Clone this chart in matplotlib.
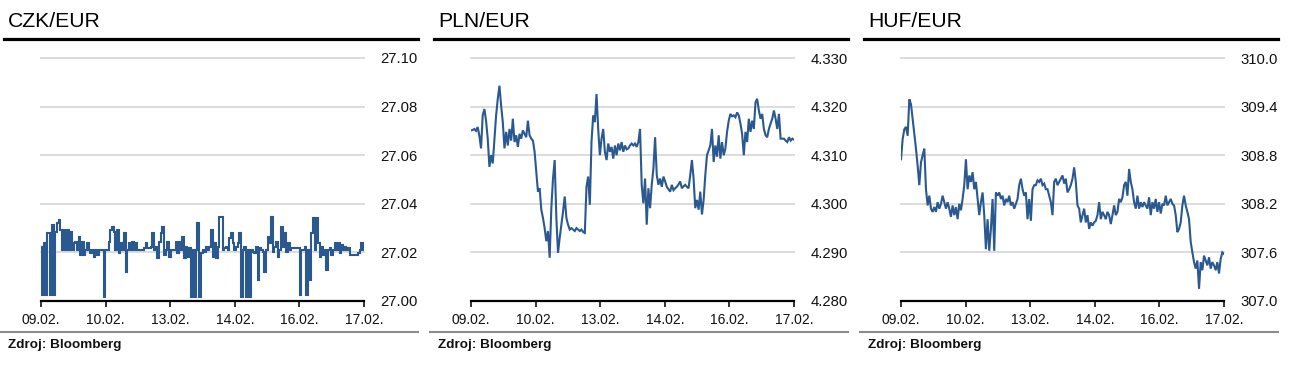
import numpy as np
import matplotlib.pyplot as plt
from matplotlib.lines import Line2D

# -----------------------------
# Data (intraday fixings)
# -----------------------------
date_labels = ["09.02.", "10.02.", "13.02.", "14.02.", "16.02.", "17.02."]

czk_eur = [
    27.0224, 27.0025, 27.0237, 27.0025, 27.0279, 27.0279, 27.0025, 27.0313, 27.0025, 27.0285,
    27.0320, 27.0333, 27.0292, 27.0210, 27.0292, 27.0210, 27.0292, 27.0210, 27.0285, 27.0210,
    27.0237, 27.0244, 27.0210, 27.0265, 27.0189, 27.0244, 27.0189, 27.0210, 27.0237, 27.0210,
    27.0196, 27.0210, 27.0182, 27.0210, 27.0189, 27.0210, 27.0210, 27.0210, 27.0018, 27.0210,
    27.0210, 27.0244, 27.0292, 27.0306, 27.0285, 27.0210, 27.0292, 27.0196, 27.0237, 27.0210,
    27.0279, 27.0121, 27.0210, 27.0237, 27.0210, 27.0244, 27.0210, 27.0237, 27.0210, 27.0210,
    27.0210, 27.0210, 27.0217, 27.0237, 27.0217, 27.0217, 27.0223, 27.0279, 27.0210, 27.0223,
    27.0176, 27.0244, 27.0279, 27.0306, 27.0189, 27.0210, 27.0244, 27.0182, 27.0210, 27.0210,
    27.0210, 27.0244, 27.0196, 27.0244, 27.0210, 27.0265, 27.0176, 27.0223, 27.0182, 27.0217,
    27.0018, 27.0210, 27.0018, 27.0210, 27.0320,
    27.0018, 27.0196, 27.0210, 27.0203, 27.0223, 27.0210, 27.0223, 27.0292, 27.0182, 27.0237,
    27.0176, 27.0223, 27.0347, 27.0347, 27.0210, 27.0217, 27.0223, 27.0210, 27.0258, 27.0279,
    27.0237, 27.0210, 27.0223, 27.0237, 27.0279, 27.0018, 27.0210, 27.0223, 27.0018, 27.0210,
    27.0018, 27.0210, 27.0203, 27.0196, 27.0223, 27.0086, 27.0217, 27.0210, 27.0203, 27.0121,
    27.0210, 27.0265, 27.0237, 27.0347, 27.0203, 27.0223, 27.0244, 27.0182, 27.0210, 27.0306,
    27.0223, 27.0279, 27.0203, 27.0237, 27.0210, 27.0217, 27.0217, 27.0217, 27.0217, 27.0217,
    27.0025, 27.0210, 27.0210, 27.0223, 27.0025, 27.0210, 27.0086, 27.0279, 27.0340, 27.0210,
    27.0340, 27.0237, 27.0182, 27.0223, 27.0189, 27.0210, 27.0128, 27.0210, 27.0217, 27.0189,
    27.0210, 27.0237, 27.0210, 27.0237, 27.0196, 27.0230, 27.0210, 27.0223, 27.0210, 27.0217,
    27.0189, 27.0189, 27.0189, 27.0189, 27.0189, 27.0196, 27.0210, 27.0237, 27.0210,
]

pln_eur = [
    4.3151, 4.3152, 4.3154, 4.3150, 4.3158, 4.3140, 4.3114, 4.3182, 4.3195, 4.3171,
    4.3134, 4.3076, 4.3100, 4.3083, 4.3134, 4.3182, 4.3216, 4.3243, 4.3202, 4.3168,
    4.3114, 4.3148, 4.3120, 4.3154, 4.3130, 4.3175, 4.3127, 4.3141, 4.3117, 4.3144,
    4.3134, 4.3151, 4.3144, 4.3137, 4.3171, 4.3141, 4.3134, 4.3130, 4.3107, 4.3066,
    4.3025, 4.3032, 4.2988, 4.2971, 4.2950, 4.2923, 4.2944, 4.2889, 4.2991, 4.3052,
    4.3090, 4.2971, 4.2899, 4.2930, 4.2957, 4.2984, 4.3015, 4.2971, 4.2957, 4.2947,
    4.2950, 4.2947, 4.2944, 4.2950, 4.2947, 4.2944, 4.2947, 4.2942, 4.2940, 4.3035,
    4.3056, 4.2998, 4.3127, 4.3182, 4.3168, 4.3226, 4.3154, 4.3100, 4.3134, 4.3154,
    4.3107, 4.3090, 4.3124, 4.3107, 4.3117, 4.3093, 4.3120, 4.3100, 4.3124, 4.3110,
    4.3127, 4.3107, 4.3120, 4.3112, 4.3114, 4.3120, 4.3124,
    4.3120, 4.3124, 4.3117, 4.3127, 4.3154, 4.3039, 4.3001, 4.3052, 4.2957, 4.3032,
    4.2991, 4.3039, 4.3073, 4.3137, 4.3059, 4.3039, 4.3052, 4.3035, 4.3056, 4.3046,
    4.3035, 4.3030, 4.3025, 4.3039, 4.3028, 4.3032, 4.3035, 4.3040, 4.3046, 4.3032,
    4.3036, 4.3039, 4.3035, 4.3032, 4.3059, 4.3090, 4.3052, 4.2991, 4.3008, 4.2988,
    4.3025, 4.2978, 4.3008, 4.3059, 4.3100, 4.3110, 4.3120, 4.3154, 4.3086, 4.3120,
    4.3097, 4.3141, 4.3093, 4.3127, 4.3100, 4.3114, 4.3148, 4.3171, 4.3185, 4.3180,
    4.3182, 4.3178, 4.3188, 4.3182, 4.3165, 4.3144, 4.3100, 4.3148, 4.3127, 4.3175,
    4.3148, 4.3171, 4.3154, 4.3209, 4.3216, 4.3192, 4.3175, 4.3185, 4.3154, 4.3141,
    4.3137, 4.3154, 4.3165, 4.3175, 4.3192, 4.3175, 4.3154, 4.3185, 4.3134, 4.3134,
    4.3134, 4.3130, 4.3127, 4.3137, 4.3130, 4.3134, 4.3132,
]

huf_eur = [
    308.75, 309.00, 309.12, 309.15, 309.04, 309.49, 309.43, 309.25, 309.08, 308.88,
    308.67, 308.43, 308.71, 308.80, 308.88, 308.38, 308.18, 308.30, 308.14, 308.10,
    308.16, 308.10, 308.22, 308.14, 308.20, 308.30, 308.22, 308.14, 308.22, 308.14,
    308.04, 308.18, 308.06, 308.16, 308.01, 308.20, 308.12, 308.26, 308.43, 308.75,
    308.38, 308.55, 308.47, 308.59, 308.38, 308.47, 308.26, 308.06, 308.22, 308.34,
    308.06, 307.64, 308.01, 307.62, 307.89, 308.26, 307.62, 308.34, 308.30, 308.34,
    308.26, 308.30, 308.18, 308.26, 308.22, 308.30, 308.18, 308.22, 308.14, 308.20,
    308.26, 308.43, 308.51, 308.38, 308.30, 308.34, 308.01, 308.26, 307.99, 308.38,
    308.43, 308.43, 308.49, 308.47, 308.51, 308.43, 308.45, 308.38, 308.38, 308.30,
    308.22, 308.06, 308.47, 308.51, 308.43, 308.47, 308.51, 308.55, 308.45,
    308.51, 308.34, 308.38, 308.43, 308.51, 308.65, 308.47, 308.18, 308.14, 307.97,
    308.06, 308.14, 307.97, 308.06, 307.89, 307.97, 307.93, 307.97, 307.99, 308.06,
    308.22, 308.01, 308.10, 308.06, 308.01, 308.10, 308.06, 307.95, 308.06, 308.18,
    308.06, 308.10, 308.26, 308.22, 308.28, 308.43, 308.47, 308.30, 308.63, 308.47,
    308.38, 308.22, 308.14, 308.30, 308.14, 308.22, 308.16, 308.22, 308.18, 308.14,
    308.28, 308.06, 308.22, 308.14, 308.26, 308.10, 308.22, 308.08, 308.20, 308.18,
    308.30, 308.18, 308.22, 308.26, 308.20, 308.18, 308.06, 307.85, 307.89, 307.97,
    308.18, 308.30, 308.18, 308.10, 308.01, 307.73, 307.60, 307.48, 307.40, 307.50,
    307.15, 307.48, 307.38, 307.56, 307.50, 307.44, 307.54, 307.40, 307.48, 307.44,
    307.38, 307.48, 307.34, 307.52, 307.60, 307.58,
]

titles = ["CZK/EUR", "PLN/EUR", "HUF/EUR"]
series = [czk_eur, pln_eur, huf_eur]
y_ticks = [
    [27.00, 27.02, 27.04, 27.06, 27.08, 27.10],
    [4.280, 4.290, 4.300, 4.310, 4.320, 4.330],
    [307.0, 307.6, 308.2, 308.8, 309.4, 310.0],
]
y_formats = ["{:.2f}", "{:.3f}", "{:.1f}"]
step_style = ["steps-mid", "default", "default"]

# -----------------------------
# Figure layout (pixel based)
# -----------------------------
W, H = 1291, 367
fig = plt.figure(figsize=(W / 100, H / 100), dpi=100)
plt.rcParams["font.family"] = ["Liberation Sans", "DejaVu Sans"]

line_color = "#2a5890"
panel_offsets = [0, 430, 860]

for i, off in enumerate(panel_offsets):
    left = off + 41
    ax = fig.add_axes([left / W, 1 - 301 / H, 323 / W, 243 / H])

    vals = np.array(series[i])
    t = np.linspace(0, 5, len(vals))
    ax.plot(t, vals, color=line_color, linewidth=1.5, drawstyle=step_style[i],
            solid_joinstyle="miter")

    ax.set_xlim(0, 5)
    ax.set_ylim(y_ticks[i][0], y_ticks[i][-1])
    ax.set_xticks(range(6))
    ax.set_xticklabels(date_labels, fontsize=10)
    ax.set_yticks(y_ticks[i])
    ax.set_yticklabels([y_formats[i].format(v) for v in y_ticks[i]], fontsize=10.7)

    ax.yaxis.tick_right()
    ax.tick_params(axis="y", length=0, pad=12, colors="#111111")
    ax.tick_params(axis="x", length=4, width=1.2, pad=5, colors="#111111",
                   direction="out")
    ax.grid(axis="y", color="#d9d9d9", linewidth=1.3)
    for gl in ax.get_ygridlines():
        gl.set_clip_on(False)
    ax.set_axisbelow(True)

    for side in ["top", "right", "left"]:
        ax.spines[side].set_visible(False)
    ax.spines["bottom"].set_linewidth(1.6)
    ax.spines["bottom"].set_color("black")
    ax.spines["bottom"].set_zorder(5)

    # title and rules
    fig.text((off + 8) / W, 1 - 27 / H, titles[i], fontsize=15.2, va="baseline",
             ha="left", color="black")
    fig.add_artist(Line2D([(off + 4) / W, (off + 418) / W], [1 - 38.7 / H] * 2,
                          color="black", linewidth=2.3))
    fig.add_artist(Line2D([off / W, (off + 418) / W], [1 - 331.5 / H] * 2,
                          color="#8c8c8c", linewidth=1.5))
    fig.text((off + 8) / W, 1 - 348 / H, "Zdroj: Bloomberg", fontsize=9.7,
             fontweight="bold", va="baseline", ha="left", color="#111111")

fig.savefig("out.png", dpi=100, facecolor="white")
